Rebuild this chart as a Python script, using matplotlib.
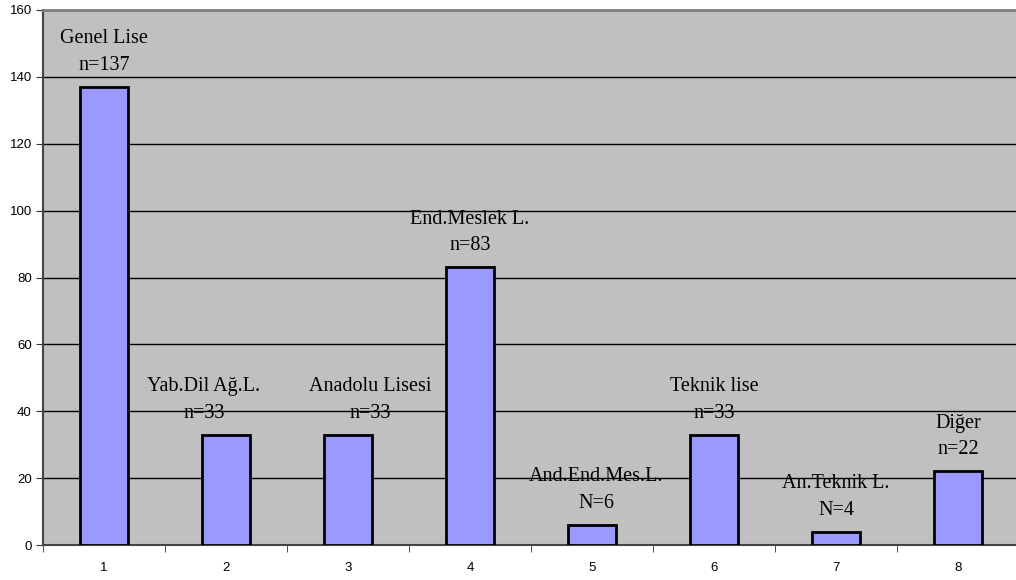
import matplotlib
matplotlib.use("Agg")
import matplotlib.pyplot as plt
import numpy as np

categories = ["1", "2", "3", "4", "5", "6", "7", "8"]
values = [137, 33, 33, 83, 6, 33, 4, 22]
names = ["Genel Lise", "Yab.Dil Ağ.L.", "Anadolu Lisesi", "End.Meslek L.",
         "And.End.Mes.L.", "Teknik lise", "An.Teknik L.", "Diğer"]
counts = ["n=137", "n=33", "n=33", "n=83", "N=6", "n=33", "N=4", "n=22"]
label_dx = [0, -22, 22, 0, 4, 0, 0, 0]
yticks = [0, 20, 40, 60, 80, 100, 120, 140, 160]

W, H = 1016, 580
fig = plt.figure(figsize=(W / 100, H / 100), dpi=100)
fig.patch.set_facecolor("white")
ax = fig.add_axes([43 / W, 35 / H, 976 / W, 535 / H])
ax.set_facecolor("#C0C0C0")

x = np.arange(1, len(values) + 1)
ax.set_xlim(0.5, len(values) + 0.5)
ax.set_ylim(0, 160)
ax.set_axisbelow(True)
ax.yaxis.grid(True, color="black", linewidth=1.0)
ax.bar(x, values, width=0.4, color="#9999FF", edgecolor="black", linewidth=2.0, zorder=3)

for xi, v, nm, c, dx in zip(x, values, names, counts, label_dx):
    ax.annotate(nm + "\n" + c, xy=(xi, v), xytext=(dx, 12), textcoords="offset pixels",
                ha="center", va="bottom", multialignment="center",
                fontsize=14.5, family="Liberation Serif", linespacing=1.55,
                color="black", zorder=4, annotation_clip=False)

ax.set_yticks(yticks)
ax.set_yticklabels([str(t) for t in yticks], fontsize=9.5, family="Liberation Sans")
ax.set_xticks(x)
ax.set_xticklabels(categories, fontsize=9.5, family="Liberation Sans")
ax.set_xticks(np.arange(0.5, len(values) + 1, 1.0), minor=True)
ax.tick_params(axis="x", which="major", length=0, pad=12)
ax.tick_params(axis="x", which="minor", length=5, direction="out", color="#333333")
ax.tick_params(axis="y", length=5, direction="out", color="#333333", pad=3)

for s in ["left", "bottom"]:
    ax.spines[s].set_color("#444444")
    ax.spines[s].set_linewidth(1.5)
ax.spines["top"].set_color("#808080")
ax.spines["top"].set_linewidth(2)
ax.spines["right"].set_visible(False)

fig.savefig("out.png", dpi=100, facecolor="white")
